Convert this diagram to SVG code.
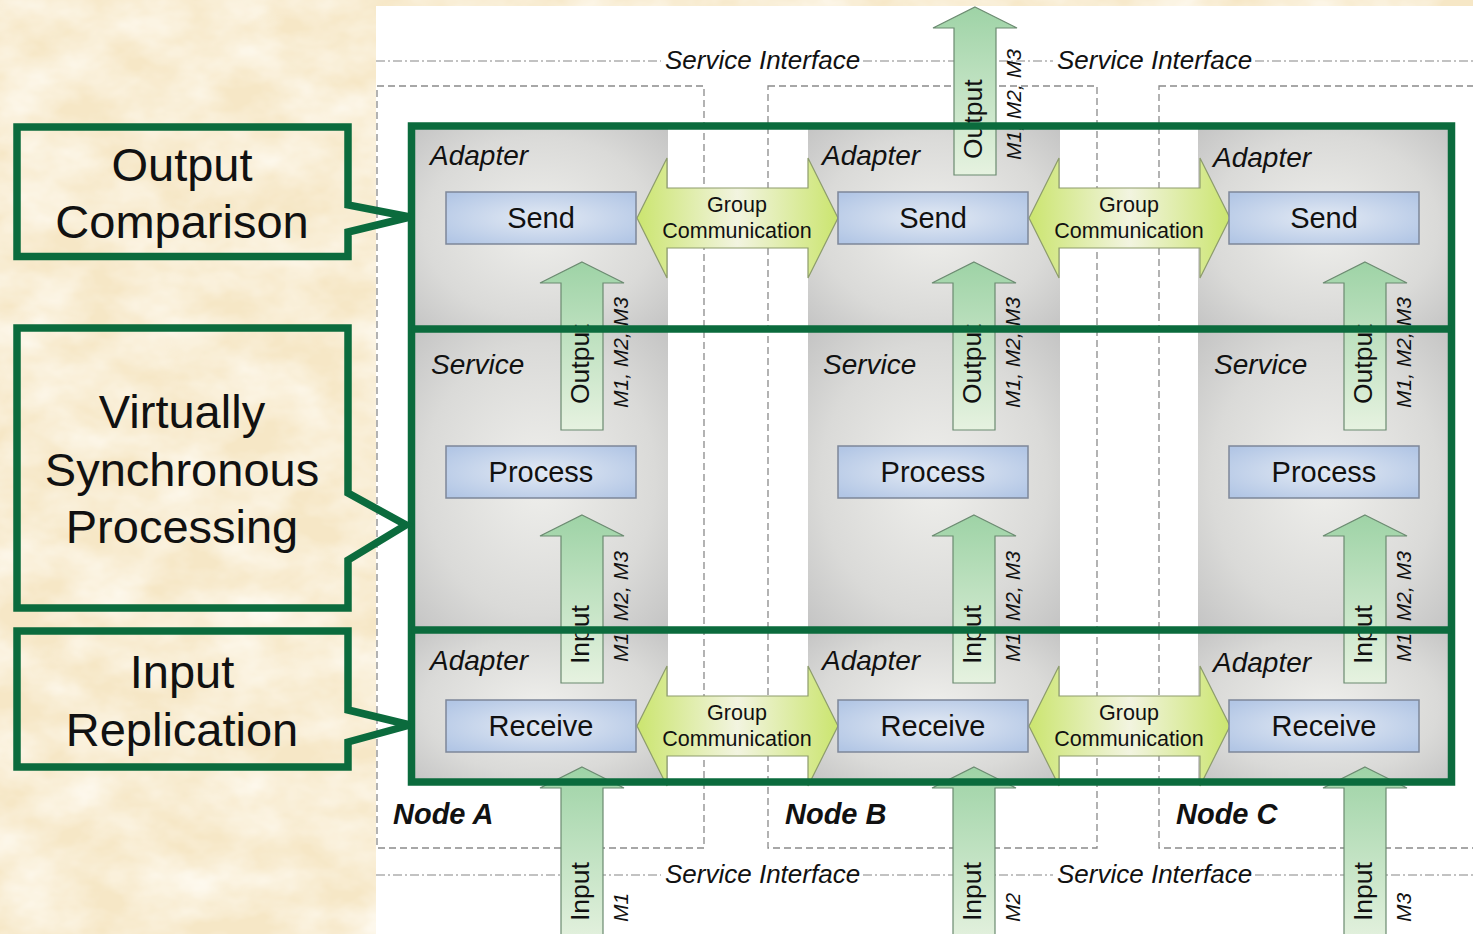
<svg xmlns="http://www.w3.org/2000/svg" xmlns:xlink="http://www.w3.org/1999/xlink" width="1473" height="934" viewBox="0 0 1473 934">
  <style>
    .sans { font-family: "Liberation Sans", Arial, sans-serif; fill: #111; }
    .layer { font-size: 28px; font-style: italic; }
    .comp { font-size: 29px; text-anchor: middle; }
    .gc { font-size: 21.5px; text-anchor: middle; }
    .flow { font-size: 26.5px; }
    .msg { font-size: 21px; font-style: italic; }
    .iface { font-size: 26px; font-style: italic; }
    .node { font-size: 29px; font-style: italic; font-weight: bold; }
    .call { font-size: 47px; text-anchor: middle; }
    .nodebox { fill: none; stroke: #8a8a8a; stroke-width: 1.3; stroke-dasharray: 7 4; }
    .ifline { fill: none; stroke: #858585; stroke-width: 1.2; stroke-dasharray: 9 3 2 3; }
    .col { stroke: none; }
    .box { fill: url(#blueFill); stroke: #7d8799; stroke-width: 1.5; }
    .up { fill: url(#greenFill); stroke: #6b8a70; stroke-width: 1.2; }
    .gcarrow { fill: url(#limeFill); stroke: #8d9c6c; stroke-width: 1.2; }
    .frame { fill: none; stroke: #0b6b3d; stroke-width: 7.5; }
  </style>
  <defs>
    <filter id="paper" x="0" y="0" width="1" height="1">
      <feTurbulence type="fractalNoise" baseFrequency="0.014 0.022" numOctaves="4" seed="7"/>
      <feColorMatrix type="matrix" values="0 0 0 0 1  0 0 0 0 0.98  0 0 0 0 0.93  1.4 0 0 0 -0.4"/>
    </filter>
    <radialGradient id="grayFill" cx="50%" cy="50%" r="75%">
      <stop offset="0" stop-color="#efefec"/>
      <stop offset="0.6" stop-color="#dadad8"/>
      <stop offset="1" stop-color="#c0c0c0"/>
    </radialGradient>
    <radialGradient id="blueFill" cx="50%" cy="50%" r="65%">
      <stop offset="0" stop-color="#e3eaf4"/>
      <stop offset="1" stop-color="#b2c6e5"/>
    </radialGradient>
    <linearGradient id="greenFill" x1="0" y1="0" x2="0" y2="1">
      <stop offset="0" stop-color="#9ed3a6"/>
      <stop offset="1" stop-color="#e6f2e0"/>
    </linearGradient>
    <linearGradient id="limeFill" x1="0" y1="0" x2="1" y2="0">
      <stop offset="0" stop-color="#cbe56f"/>
      <stop offset="0.5" stop-color="#f2f4e0"/>
      <stop offset="1" stop-color="#cbe56f"/>
    </linearGradient>
    <!-- upward flow arrow, tip at origin -->
    <path id="upShort" d="M0,0 L42,21 L21,21 L21,168 L-21,168 L-21,21 L-42,21 Z"/>
    <path id="upLong" d="M0,0 L42,21 L21,21 L21,180 L-21,180 L-21,21 L-42,21 Z"/>
    <!-- double-headed group communication arrow, left tip at origin -->
    <path id="gcShape" d="M0,0 L30,-60 L30,-30 L171,-30 L171,-60 L201,0 L171,60 L171,30 L30,30 L30,60 Z"/>
  </defs>

  <!-- parchment background -->
  <rect x="0" y="0" width="1473" height="934" fill="#f6e7c6"/>
  <rect x="0" y="0" width="1473" height="934" filter="url(#paper)"/>

  <!-- drawing sheet -->
  <rect x="376" y="6" width="1097" height="928" fill="#ffffff"/>

  <!-- service interface boundaries -->
  <g id="service-interfaces">
    <path class="ifline" d="M376,61 H661 M863,61 H1053 M1255,61 H1473"/>
    <path class="ifline" d="M376,875 H661 M863,875 H1053 M1255,875 H1473"/>
    <text class="sans iface" x="665" y="69">Service Interface</text>
    <text class="sans iface" x="1057" y="69">Service Interface</text>
    <text class="sans iface" x="665" y="883">Service Interface</text>
    <text class="sans iface" x="1057" y="883">Service Interface</text>
  </g>

  <!-- node outlines and layer columns -->
  <g id="node-a">
    <rect class="nodebox" x="377" y="86" width="327" height="762"/>
    <rect class="col" x="411" y="126" width="257" height="203" fill="url(#grayFill)"/>
    <rect class="col" x="411" y="329" width="257" height="301" fill="url(#grayFill)"/>
    <rect class="col" x="411" y="630" width="257" height="152" fill="url(#grayFill)"/>
    <text class="sans node" x="393" y="824">Node A</text>
  </g>
  <g id="node-b">
    <rect class="nodebox" x="768" y="86" width="329" height="762"/>
    <rect class="col" x="808" y="126" width="252" height="203" fill="url(#grayFill)"/>
    <rect class="col" x="808" y="329" width="252" height="301" fill="url(#grayFill)"/>
    <rect class="col" x="808" y="630" width="252" height="152" fill="url(#grayFill)"/>
    <text class="sans node" x="785" y="824">Node B</text>
  </g>
  <g id="node-c">
    <rect class="nodebox" x="1159" y="86" width="340" height="762"/>
    <rect class="col" x="1198" y="126" width="253" height="203" fill="url(#grayFill)"/>
    <rect class="col" x="1198" y="329" width="253" height="301" fill="url(#grayFill)"/>
    <rect class="col" x="1198" y="630" width="253" height="152" fill="url(#grayFill)"/>
    <text class="sans node" x="1176" y="824">Node C</text>
  </g>

  <!-- group communication links and message flows -->
  <g id="connectors">
    <use xlink:href="#gcShape" class="gcarrow" x="637" y="218"/>
    <use xlink:href="#gcShape" class="gcarrow" x="1029" y="218"/>
    <use xlink:href="#gcShape" class="gcarrow" x="637" y="726"/>
    <use xlink:href="#gcShape" class="gcarrow" x="1029" y="726"/>
    <text class="sans gc" x="737" y="212">Group</text>
    <text class="sans gc" x="737" y="238">Communication</text>
    <text class="sans gc" x="1129" y="212">Group</text>
    <text class="sans gc" x="1129" y="238">Communication</text>
    <text class="sans gc" x="737" y="720">Group</text>
    <text class="sans gc" x="737" y="746">Communication</text>
    <text class="sans gc" x="1129" y="720">Group</text>
    <text class="sans gc" x="1129" y="746">Communication</text>

    <use xlink:href="#upShort" class="up" x="975" y="7"/>
    <use xlink:href="#upShort" class="up" x="582" y="262"/>
    <use xlink:href="#upShort" class="up" x="974" y="262"/>
    <use xlink:href="#upShort" class="up" x="1365" y="262"/>
    <use xlink:href="#upShort" class="up" x="582" y="515"/>
    <use xlink:href="#upShort" class="up" x="974" y="515"/>
    <use xlink:href="#upShort" class="up" x="1365" y="515"/>
    <use xlink:href="#upLong" class="up" x="582" y="767"/>
    <use xlink:href="#upLong" class="up" x="974" y="767"/>
    <use xlink:href="#upLong" class="up" x="1365" y="767"/>

    <text class="sans flow" transform="translate(982,159) rotate(-90)">Output</text>
    <text class="sans msg" transform="translate(1021,160) rotate(-90)">M1, M2, M3</text>

    <text class="sans flow" transform="translate(589,404) rotate(-90)">Output</text>
    <text class="sans msg" transform="translate(628,408) rotate(-90)">M1, M2, M3</text>
    <text class="sans flow" transform="translate(981,404) rotate(-90)">Output</text>
    <text class="sans msg" transform="translate(1020,408) rotate(-90)">M1, M2, M3</text>
    <text class="sans flow" transform="translate(1372,404) rotate(-90)">Output</text>
    <text class="sans msg" transform="translate(1411,408) rotate(-90)">M1, M2, M3</text>

    <text class="sans flow" transform="translate(589,664) rotate(-90)">Input</text>
    <text class="sans msg" transform="translate(628,662) rotate(-90)">M1, M2, M3</text>
    <text class="sans flow" transform="translate(981,664) rotate(-90)">Input</text>
    <text class="sans msg" transform="translate(1020,662) rotate(-90)">M1, M2, M3</text>
    <text class="sans flow" transform="translate(1372,664) rotate(-90)">Input</text>
    <text class="sans msg" transform="translate(1411,662) rotate(-90)">M1, M2, M3</text>

    <text class="sans flow" transform="translate(589,921) rotate(-90)">Input</text>
    <text class="sans msg" transform="translate(628,922) rotate(-90)">M1</text>
    <text class="sans flow" transform="translate(981,921) rotate(-90)">Input</text>
    <text class="sans msg" transform="translate(1020,922) rotate(-90)">M2</text>
    <text class="sans flow" transform="translate(1372,921) rotate(-90)">Input</text>
    <text class="sans msg" transform="translate(1411,922) rotate(-90)">M3</text>
  </g>

  <!-- components of each node -->
  <g id="node-a-components">
    <text class="sans layer" x="430" y="165">Adapter</text>
    <text class="sans layer" x="431" y="374">Service</text>
    <text class="sans layer" x="430" y="670">Adapter</text>
    <g id="send-a"><rect class="box" x="446" y="192" width="190" height="52"/><text class="sans comp" x="541" y="228">Send</text></g>
    <g id="process-a"><rect class="box" x="446" y="446" width="190" height="52"/><text class="sans comp" x="541" y="482">Process</text></g>
    <g id="receive-a"><rect class="box" x="446" y="700" width="190" height="52"/><text class="sans comp" x="541" y="736">Receive</text></g>
  </g>
  <g id="node-b-components">
    <text class="sans layer" x="822" y="165">Adapter</text>
    <text class="sans layer" x="823" y="374">Service</text>
    <text class="sans layer" x="822" y="670">Adapter</text>
    <g id="send-b"><rect class="box" x="838" y="192" width="190" height="52"/><text class="sans comp" x="933" y="228">Send</text></g>
    <g id="process-b"><rect class="box" x="838" y="446" width="190" height="52"/><text class="sans comp" x="933" y="482">Process</text></g>
    <g id="receive-b"><rect class="box" x="838" y="700" width="190" height="52"/><text class="sans comp" x="933" y="736">Receive</text></g>
  </g>
  <g id="node-c-components">
    <text class="sans layer" x="1213" y="167">Adapter</text>
    <text class="sans layer" x="1214" y="374">Service</text>
    <text class="sans layer" x="1213" y="672">Adapter</text>
    <g id="send-c"><rect class="box" x="1229" y="192" width="190" height="52"/><text class="sans comp" x="1324" y="228">Send</text></g>
    <g id="process-c"><rect class="box" x="1229" y="446" width="190" height="52"/><text class="sans comp" x="1324" y="482">Process</text></g>
    <g id="receive-c"><rect class="box" x="1229" y="700" width="190" height="52"/><text class="sans comp" x="1324" y="736">Receive</text></g>
  </g>

  <!-- highlighted stages -->
  <g id="stage-frame">
    <rect class="frame" x="411.5" y="126" width="1040" height="656"/>
    <path class="frame" d="M411.5,329 H1451.5 M411.5,630 H1451.5"/>
  </g>

  <!-- stage callouts -->
  <g id="callout-output">
    <path class="frame" d="M17,127 H348 V205 L410,217 L348,232 V256.5 H17 Z"/>
    <text class="sans call" x="182" y="181">Output</text>
    <text class="sans call" x="182" y="238">Comparison</text>
  </g>
  <g id="callout-processing">
    <path class="frame" d="M17,328 H348 V493 L406,525 L348,560 V608 H17 Z"/>
    <text class="sans call" x="182" y="428">Virtually</text>
    <text class="sans call" x="182" y="486">Synchronous</text>
    <text class="sans call" x="182" y="543">Processing</text>
  </g>
  <g id="callout-input">
    <path class="frame" d="M17,631 H348 V710 L410,725 L348,742 V767 H17 Z"/>
    <text class="sans call" x="182" y="688">Input</text>
    <text class="sans call" x="182" y="746">Replication</text>
  </g>
</svg>
